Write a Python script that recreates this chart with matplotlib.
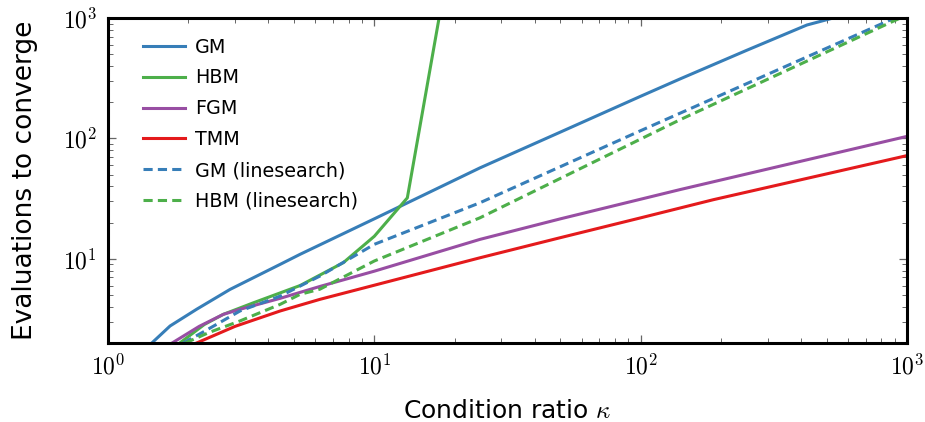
import numpy as np
import matplotlib.pyplot as plt

plt.rcParams['mathtext.fontset'] = 'cm'

# condition ratio / evaluations
gm_k = [1.46, 1.71, 2.15, 2.87, 4.43, 5.26, 10, 24.9, 50, 100, 140.6, 250, 421, 528, 1000]
gm_n = [2.0, 2.77, 3.81, 5.57, 9.0, 10.9, 21.5, 56.9, 113, 224, 312, 539, 875, 1000, 1000]

hbm_k = [1.86, 2.3, 2.71, 3.5, 5.26, 7.65, 10, 13.3, 17.5]
hbm_n = [2.0, 2.85, 3.46, 4.3, 6.0, 9.3, 15.4, 32.1, 1000]

fgm_k = [1.74, 2.2, 2.71, 3.13, 4.43, 6.25, 10, 24.9, 50, 140.6, 1000]
fgm_n = [2.0, 2.75, 3.46, 3.81, 4.7, 5.9, 7.9, 14.5, 21.5, 37.6, 104]

tmm_k = [2.15, 3, 4.43, 6.25, 10, 24.9, 50, 100, 187.6, 1000]
tmm_n = [2.0, 2.75, 3.69, 4.61, 6.04, 10.2, 15.0, 21.9, 31, 72]

gm_ls_k = [1.92, 2.3, 3.13, 4.43, 5.26, 6.25, 10, 24.9, 100, 140.6, 864, 1000]
gm_ls_n = [2.0, 2.5, 3.69, 4.9, 5.94, 7.2, 13.2, 29.2, 116, 162, 962, 1113]

hbm_ls_k = [1.95, 2.4, 3.13, 4.43, 5.26, 6.25, 10, 24.9, 140.6, 864, 1000]
hbm_ls_n = [2.0, 2.45, 3.05, 4.19, 5.07, 5.6, 9.6, 21.9, 143, 915, 1059]

blue, green, purple, red = '#377eb8', '#4daf4a', '#984ea3', '#e41a1c'
dash = (0, (3, 1.7))

fig = plt.figure(figsize=(9.25, 4.22), dpi=100)
ax = fig.add_axes([0.1168, 0.1872, 0.8637, 0.7701])

lw = 2.2
ax.plot(gm_k, gm_n, color=blue, lw=lw, label='GM')
ax.plot(hbm_k, hbm_n, color=green, lw=lw, label='HBM')
ax.plot(fgm_k, fgm_n, color=purple, lw=lw, label='FGM')
ax.plot(tmm_k, tmm_n, color=red, lw=lw, label='TMM')
ax.plot(gm_ls_k, gm_ls_n, color=blue, lw=lw, ls=dash, label='GM (linesearch)')
ax.plot(hbm_ls_k, hbm_ls_n, color=green, lw=lw, ls=dash, label='HBM (linesearch)')

ax.set_xscale('log')
ax.set_yscale('log')
ax.set_xlim(1, 1000)
ax.set_ylim(2, 1000)

ax.set_xticks([1, 10, 100, 1000], labels=[r'$10^{0}$', r'$10^{1}$', r'$10^{2}$', r'$10^{3}$'])
ax.set_yticks([10, 100, 1000], labels=[r'$10^{1}$', r'$10^{2}$', r'$10^{3}$'])
ax.tick_params(which='both', direction='in', top=True, right=True, color='#666666')
ax.tick_params(which='major', length=6, width=0.9, labelsize=17, pad=8)
ax.tick_params(which='minor', length=3.5, width=0.7)

for s in ax.spines.values():
    s.set_linewidth(2.2)

ax.set_xlabel(r'Condition ratio $\kappa$', fontsize=18, labelpad=14)
ax.set_ylabel('Evaluations to converge', fontsize=19, labelpad=18)

ax.legend(loc='upper left', bbox_to_anchor=(0.044, 0.94), frameon=False,
          fontsize=13.8, handlelength=2.2, handletextpad=0.52, labelspacing=0.62,
          borderaxespad=0, borderpad=0)

fig.savefig('out.png', dpi=100)
